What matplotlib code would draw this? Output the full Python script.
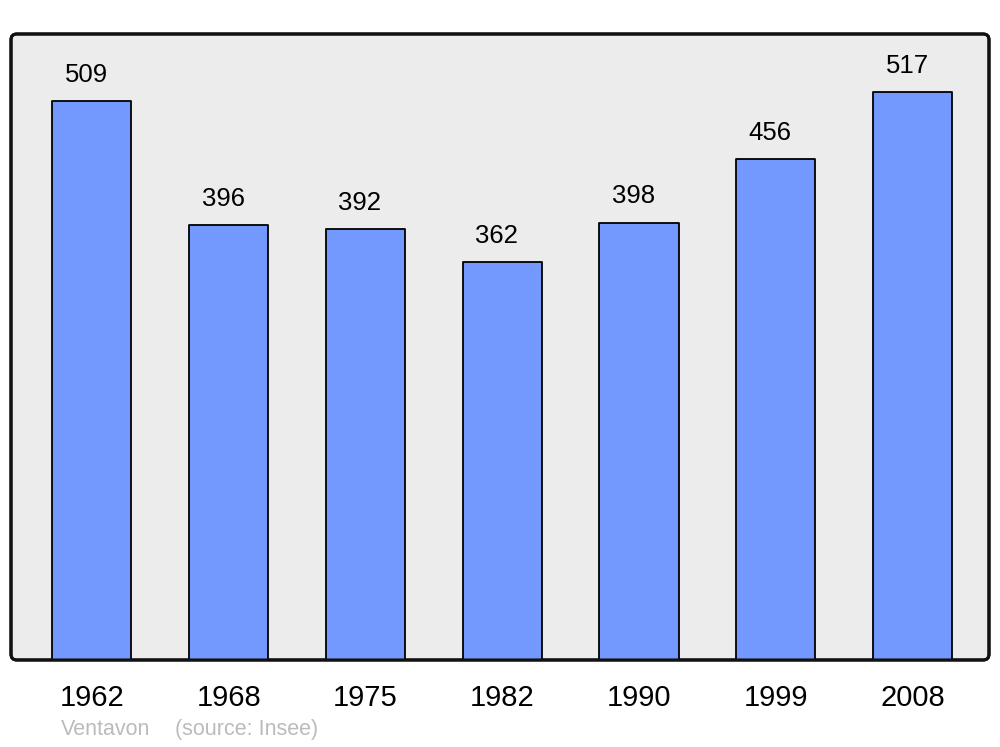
import matplotlib.pyplot as plt
from matplotlib.patches import FancyBboxPatch

years = ["1962", "1968", "1975", "1982", "1990", "1999", "2008"]
population = [509, 396, 392, 362, 398, 456, 517]

BAR_COLOR = "#7399FF"
BG_COLOR = "#ECECEC"

plt.rcParams["font.family"] = ["Liberation Sans", "DejaVu Sans"]

fig = plt.figure(figsize=(10, 7.47), dpi=100)
ax = fig.add_axes([0.011, 0.1165, 0.978, 0.838])
ax.set_facecolor("none")

x = list(range(len(years)))
ax.bar(x, population, width=0.578, color=BAR_COLOR, edgecolor="black",
       linewidth=1.3, joinstyle="round", zorder=2)

for xi, v in zip(x, population):
    ax.annotate(str(v), (xi, v), xytext=(-4, 19), textcoords="offset points",
                ha="center", va="center", fontsize=18.5, color="black")

ax.set_xlim(-0.592, 6.559)
ax.set_ylim(0, 570)
ax.set_xticks(x)
ax.set_xticklabels(years, fontsize=21)
ax.tick_params(axis="x", length=0, pad=17.5)
ax.set_yticks([])
for s in ax.spines.values():
    s.set_visible(False)

# rounded frame with grey background
frame = FancyBboxPatch((0, 0), 1, 1, transform=ax.transAxes,
                       boxstyle="round,pad=0,rounding_size=0.006",
                       mutation_aspect=978 / 626,
                       facecolor=BG_COLOR, edgecolor="#111111",
                       linewidth=2.2, zorder=0, clip_on=False)
ax.add_patch(frame)
frame2 = FancyBboxPatch((0, 0), 1, 1, transform=ax.transAxes,
                        boxstyle="round,pad=0,rounding_size=0.006",
                        mutation_aspect=978 / 626,
                        facecolor="none", edgecolor="#111111",
                        linewidth=2.2, zorder=3, clip_on=False)
ax.add_patch(frame2)

fig.text(0.061, 0.0228, "Ventavon", fontsize=15.5, color="#BBBBBB",
         ha="left", va="center")
fig.text(0.175, 0.0228, "(source: Insee)", fontsize=15.5, color="#BBBBBB",
         ha="left", va="center")

fig.savefig("out.png", dpi=100)
